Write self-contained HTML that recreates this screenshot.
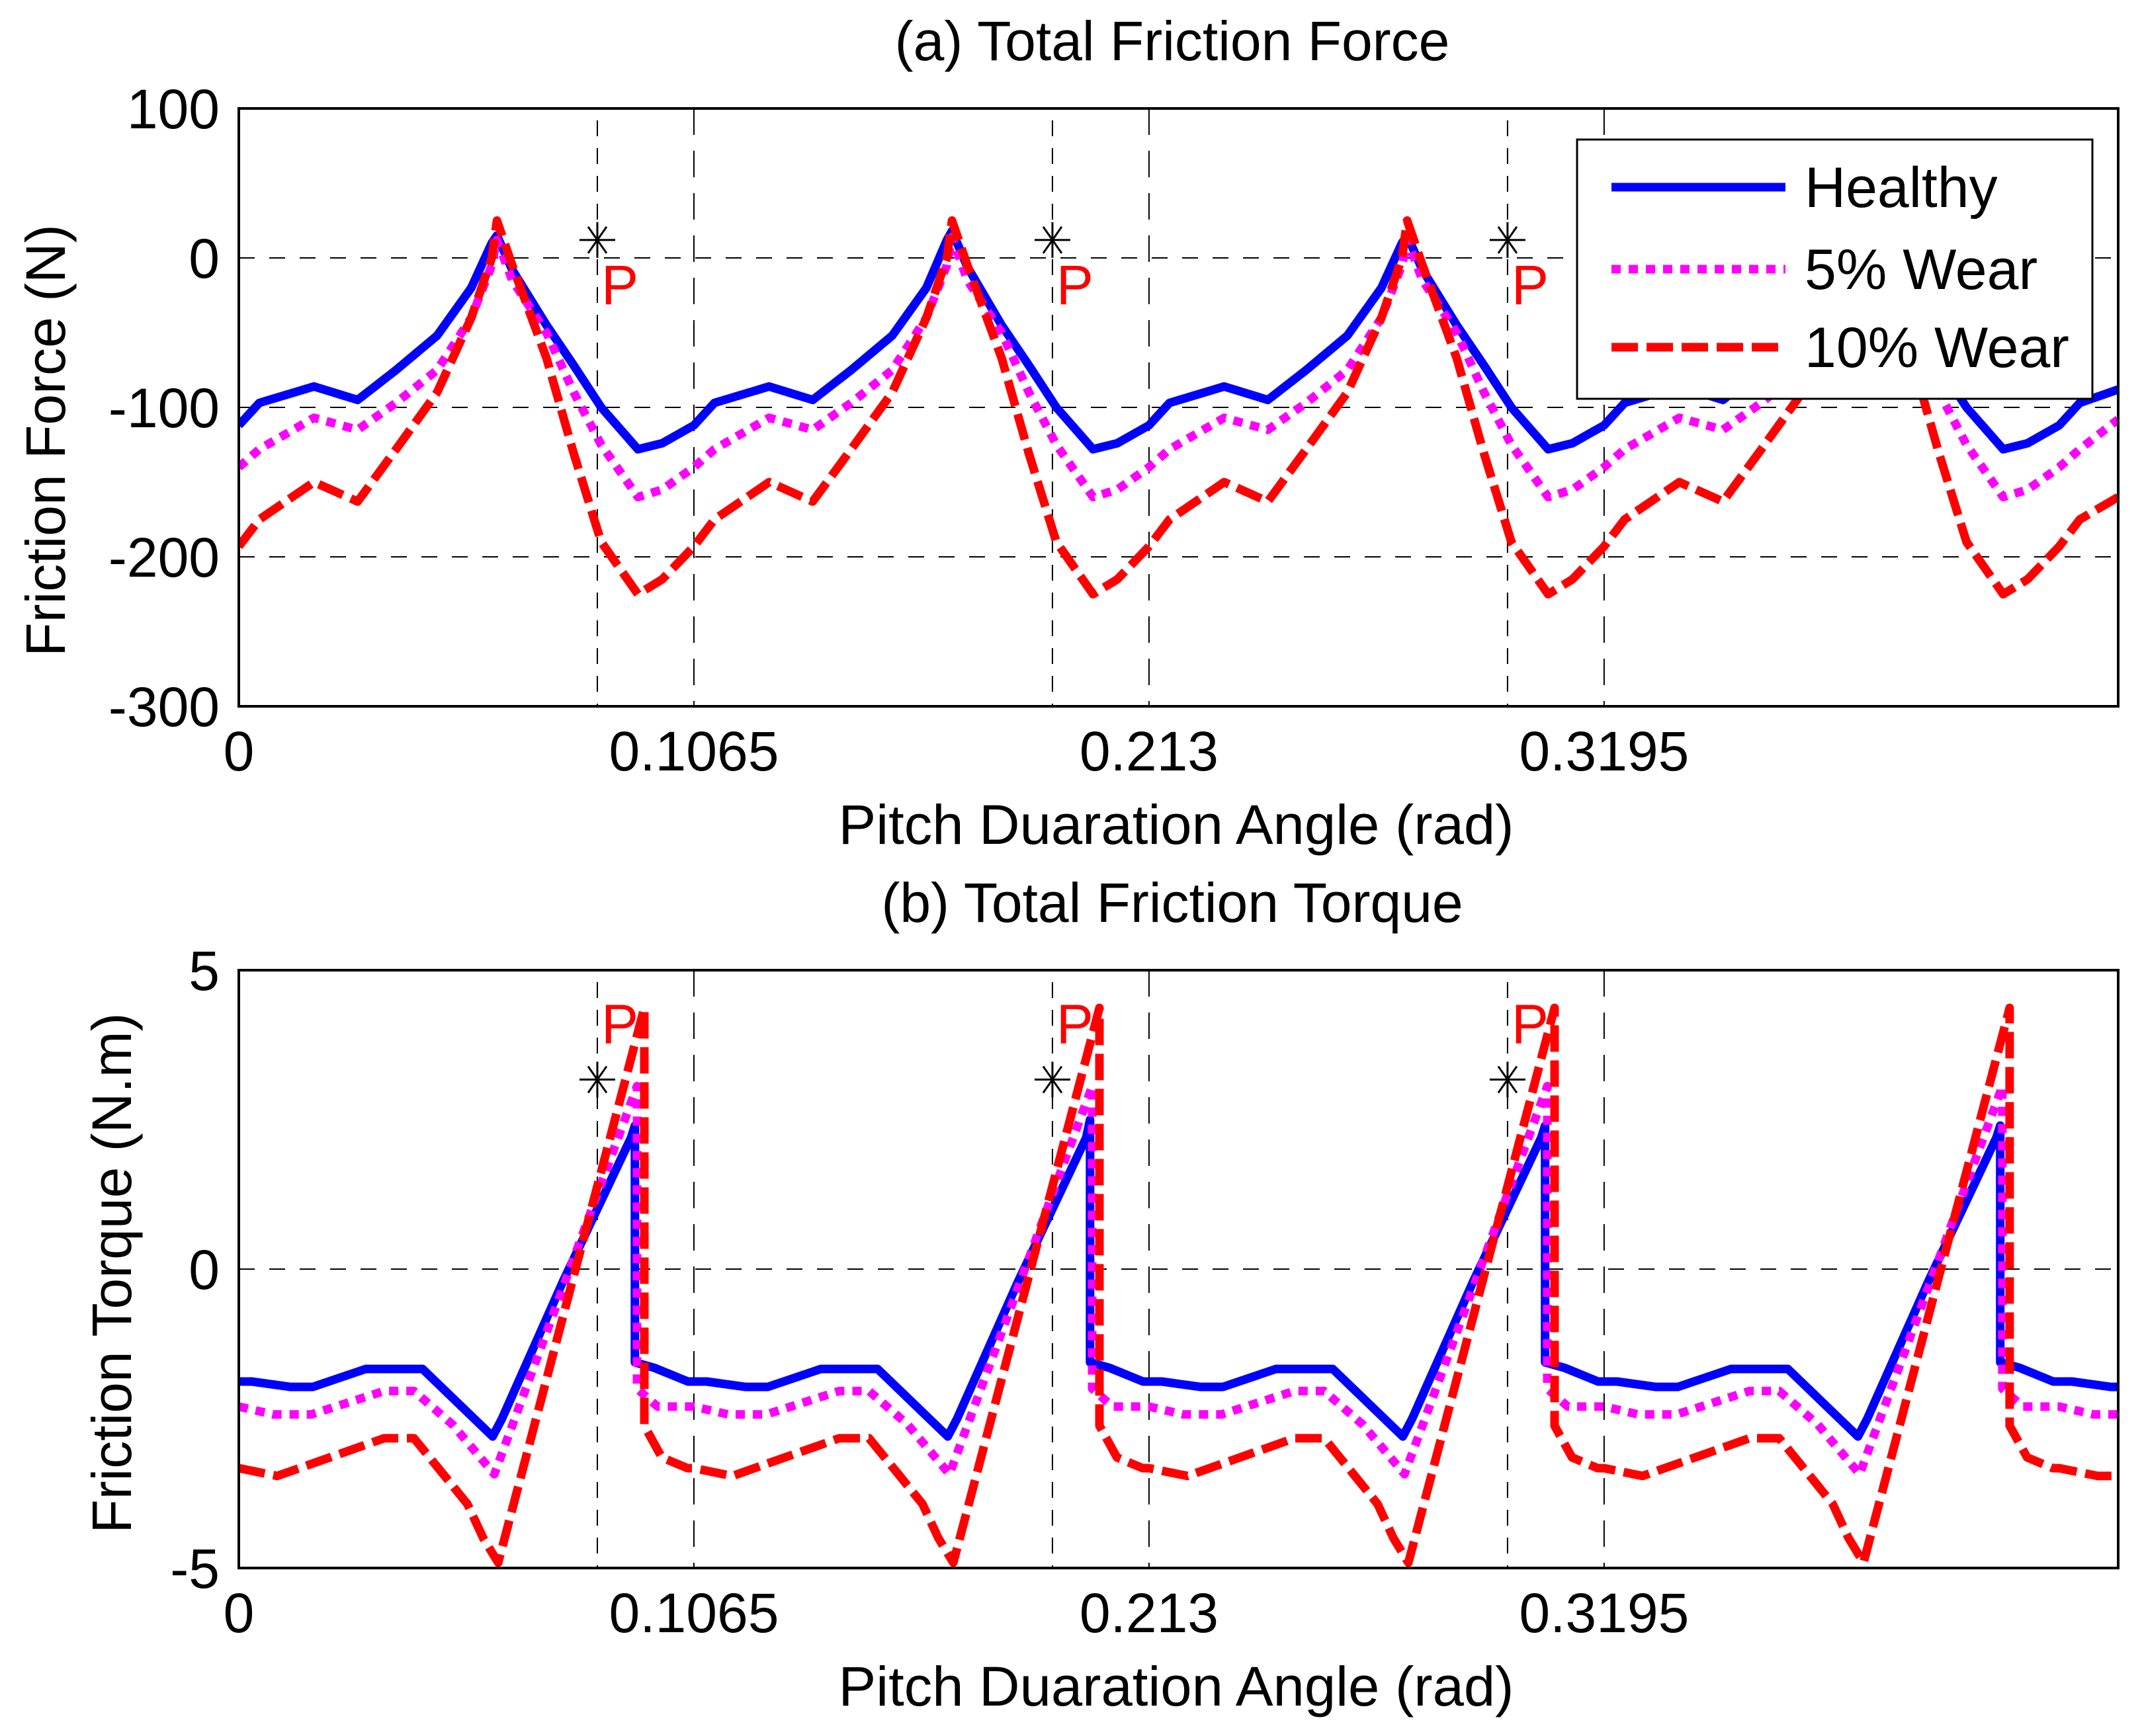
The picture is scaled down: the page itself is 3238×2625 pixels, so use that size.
<!DOCTYPE html>
<html><head><meta charset="utf-8"><style>
html,body{margin:0;padding:0;background:#fff}
svg{display:block}
text{font-family:"Liberation Sans",Arial,sans-serif;fill:#000}
</style></head><body>
<svg id="chart" width="3238" height="2625" viewBox="0 0 3238 2625" xmlns="http://www.w3.org/2000/svg">
<rect width="3238" height="2625" fill="#fff"/>
<g id="gA"></g>
<g id="gB"></g>
</svg>
<script>
const xTicks=[0,0.1065,0.213,0.3195];
const xTickLabels=["0","0.1065","0.213","0.3195"];
const pLines=[0.0839,0.1904,0.2969];
const aYTicks=[100,0,-100,-200,-300];
const aYTickLabels=["100","0","-100","-200","-300"];
const bYTicks=[5,0,-5];
const bYTickLabels=["5","0","-5"];
// Panel (a) friction force
const aX=[0,.0048,.0176,.0278,.0368,.0464,.0544,.0592,.0604,.064,.072,.0784,.0848,.0934,.0991,
.1065,.1113,.1241,.1343,.1433,.1529,.1609,.1657,.1669,.1705,.1785,.1849,.1913,.1999,.2056,
.213,.2178,.2306,.2408,.2498,.2594,.2674,.2722,.2734,.277,.285,.2914,.2978,.3064,.3121,
.3195,.3243,.3371,.3473,.3563,.3659,.3739,.3787,.3799,.3835,.3915,.3979,.4043,.4129,.4186,
.426,.4308,.4398];
const aHealthy=[-112,-97,-86,-95,-75,-52,-20,10,15,-8,-45,-72,-100,-128,-124,
-112,-97,-86,-95,-75,-52,-20,12,18,-6,-45,-72,-100,-128,-124,
-112,-97,-86,-95,-75,-52,-20,10,15,-8,-45,-72,-100,-128,-124,
-112,-97,-86,-95,-75,-52,-20,10,15,-8,-45,-72,-100,-128,-124,
-112,-97,-88];
const aWear5=[-140,-128,-107,-115,-97,-75,-40,-5,12,-15,-50,-90,-125,-160,-155,
-140,-128,-107,-115,-97,-75,-40,-5,14,-15,-50,-90,-125,-160,-155,
-140,-128,-107,-115,-97,-75,-40,-5,12,-15,-50,-90,-125,-160,-155,
-140,-128,-107,-115,-97,-75,-40,-5,12,-15,-50,-90,-125,-160,-155,
-140,-128,-108];
const aWear10=[-193,-175,-150,-163,-128,-90,-40,0,25,-5,-67,-131,-190,-225,-215,
-193,-175,-150,-163,-128,-90,-40,0,25,-5,-67,-131,-190,-225,-215,
-193,-175,-150,-163,-128,-90,-40,0,25,-5,-67,-131,-190,-225,-215,
-193,-175,-150,-163,-128,-90,-40,0,25,-5,-67,-131,-190,-225,-215,
-193,-175,-160];
const aStarY=12;
// Panel (b) friction torque
const bHX=[0,.003,.012,.0173,.0297,.043,.0594,.0616,.0759,.0918,.0927,.0927,.0972,.1051,
.1065,.1095,.1185,.1238,.1362,.1495,.1659,.1681,.1824,.1983,.1992,.1992,.2037,.2116,
.213,.216,.225,.2303,.2427,.256,.2724,.2746,.2889,.3048,.3057,.3057,.3102,.3181,
.3195,.3225,.3315,.3368,.3492,.3625,.3789,.3811,.3954,.4113,.4122,.4122,.4167,.4246,
.426,.429,.438,.4398];
const bHY=[-1.88,-1.88,-1.97,-1.97,-1.67,-1.67,-2.8,-2.5,-0.2,2.2,2.4,-1.56,-1.65,-1.88,
-1.88,-1.88,-1.97,-1.97,-1.67,-1.67,-2.8,-2.5,-0.2,2.2,2.5,-1.56,-1.65,-1.88,
-1.88,-1.88,-1.97,-1.97,-1.67,-1.67,-2.8,-2.5,-0.2,2.2,2.4,-1.56,-1.65,-1.88,
-1.88,-1.88,-1.97,-1.97,-1.67,-1.67,-2.8,-2.5,-0.2,2.2,2.4,-1.56,-1.65,-1.88,
-1.88,-1.88,-1.97,-1.97];
const bMX=[0,.008,.017,.034,.041,.050,.0598,.0932,.0932,.098,.1051,
.1065,.1145,.1235,.1405,.1475,.1565,.1663,.1997,.1997,.2045,.2116,
.213,.221,.23,.247,.254,.263,.2728,.3062,.3062,.311,.3181,
.3195,.3275,.3365,.3535,.3605,.3695,.3793,.4127,.4127,.4175,.4246,
.426,.434,.4398];
const bMY=[-2.3,-2.43,-2.43,-2.04,-2.04,-2.6,-3.43,3.06,-2.0,-2.3,-2.3,
-2.3,-2.43,-2.43,-2.04,-2.04,-2.6,-3.43,3.06,-2.0,-2.3,-2.3,
-2.3,-2.43,-2.43,-2.04,-2.04,-2.6,-3.43,3.06,-2.0,-2.3,-2.3,
-2.3,-2.43,-2.43,-2.04,-2.04,-2.6,-3.43,3.06,-2.0,-2.3,-2.3,
-2.3,-2.43,-2.43];
const bRX=[0,.009,.034,.041,.0475,.0535,.0572,.0607,.0949,.0949,.099,.105,
.1065,.1155,.1405,.1475,.154,.16,.1637,.1672,.2014,.2014,.2055,.2115,
.213,.222,.247,.254,.2605,.2665,.2702,.2737,.3079,.3079,.312,.318,
.3195,.3285,.3535,.3605,.367,.373,.3767,.3802,.4144,.4144,.4185,.4245,
.426,.435,.4398];
const bRY=[-3.33,-3.46,-2.83,-2.83,-3.4,-3.93,-4.5,-4.91,4.37,-2.62,-3.15,-3.33,
-3.33,-3.46,-2.83,-2.83,-3.4,-3.93,-4.5,-4.91,4.37,-2.62,-3.15,-3.33,
-3.33,-3.46,-2.83,-2.83,-3.4,-3.93,-4.5,-4.91,4.37,-2.62,-3.15,-3.33,
-3.33,-3.46,-2.83,-2.83,-3.4,-3.93,-4.5,-4.91,4.37,-2.62,-3.15,-3.33,
-3.33,-3.46,-3.46];
const bStarY=3.17;
const legendLabels=["Healthy","5% Wear","10% Wear"];

const NS="http://www.w3.org/2000/svg";
const L=361,R=3202,XMAX=0.4398;
function sx(v){return L+(v/XMAX)*(R-L);}
function mk(tag,attrs,parent){const e=document.createElementNS(NS,tag);for(const k in attrs)e.setAttribute(k,attrs[k]);parent.appendChild(e);return e;}
const styles=[{c:"#0000ff",d:""},{c:"#ff00ff",d:"14 12"},{c:"#ff0000",d:"40 13"}];

function panel(g,id,top,bot,ymin,ymax,yTicks,yLabels,series,starY,pOffset,ylab,ylabX,ylabCY,title,titleY,xlabY,hgrid){
  const sy=v=>bot-(v-ymin)/(ymax-ymin)*(bot-top);
  const clip=mk("clipPath",{id:"clip"+id},g);
  mk("rect",{x:L,y:top,width:R-L,height:bot-top},clip);
  hgrid.forEach(v=>{const e=mk("line",{x1:L,x2:R,y1:sy(v),y2:sy(v),stroke:"#000","stroke-width":2,"stroke-dasharray":"24 22"},g);
    
    });
  xTicks.slice(1).forEach(v=>{const e=mk("line",{x1:sx(v),x2:sx(v),y1:top,y2:bot,stroke:"#000","stroke-width":2,"stroke-dasharray":"40 24"},g);
    
    });
  pLines.forEach(v=>{const e=mk("line",{x1:sx(v),x2:sx(v),y1:top+18,y2:bot,stroke:"#000","stroke-width":2,"stroke-dasharray":"24 18"},g);
    
    });
  const sg=mk("g",{"clip-path":"url(#clip"+id+")"},g);
  series.forEach((s,i)=>{
    const pts=s.x.map((xv,j)=>sx(xv).toFixed(1)+","+sy(s.y[j]).toFixed(1)).join(" ");
    const e=mk("polyline",{points:pts,fill:"none",stroke:styles[i].c,"stroke-width":13,"stroke-linejoin":"round","stroke-dasharray":styles[i].d},sg);
    
    
  });
  pLines.forEach(v=>{
    const cx=sx(v),cy=sy(starY);
    const st=mk("g",{stroke:"#000","stroke-width":3},g);
    
    
    mk("line",{x1:cx-27,x2:cx+27,y1:cy,y2:cy},st);
    mk("line",{x1:cx-14,x2:cx+14,y1:cy-20,y2:cy+20},st);
    mk("line",{x1:cx-14,x2:cx+14,y1:cy+20,y2:cy-20},st);
    mk("line",{x1:cx,x2:cx,y1:cy-27,y2:cy+27},st);
    const t=mk("text",{x:cx+6,y:cy+pOffset,"font-size":84,fill:"#ff0000"},g);
    t.style.fill="#ff0000";t.textContent="P";
    
    
  });
  const ax=mk("rect",{x:L,y:top,width:R-L,height:bot-top,fill:"none",stroke:"#000","stroke-width":4},g);
  
  
  yTicks.forEach((v,i)=>{
    const t=mk("text",{x:332,y:sy(v)+30,"font-size":84,"text-anchor":"end"},g);t.textContent=yLabels[i];
    
    
  });
  xTicks.forEach((v,i)=>{
    const t=mk("text",{x:sx(v),y:bot+97,"font-size":84,"text-anchor":"middle"},g);t.textContent=xTickLabels[i];
    
    
  });
  const xl=mk("text",{x:1778,y:xlabY,"font-size":84,"text-anchor":"middle",textLength:1021,lengthAdjust:"spacingAndGlyphs"},g);
  xl.textContent="Pitch Duaration Angle (rad)";
  
  
  const tt=mk("text",{x:1772,y:titleY,"font-size":84,"text-anchor":"middle"},g);
  tt.textContent=title;
  
  
  const yl=mk("text",{x:0,y:0,"font-size":84,"text-anchor":"middle",transform:"translate("+ylabX+","+ylabCY+") rotate(-90)"},g);
  yl.textContent=ylab;
  
  
}

panel(document.getElementById("gA"),"a",164,1068,-300,100,aYTicks,aYTickLabels,
 [{n:"healthy",x:aX,y:aHealthy},{n:"wear-5",x:aX,y:aWear5},{n:"wear-10",x:aX,y:aWear10}],
 aStarY,97,"Friction Force (N)",98,666,"(a) Total Friction Force",91,1276,[0,-100,-200]);
panel(document.getElementById("gB"),"b",1467,2371,-5,5,bYTicks,bYTickLabels,
 [{n:"healthy",x:bHX,y:bHY},{n:"wear-5",x:bMX,y:bMY},{n:"wear-10",x:bRX,y:bRY}],
 bStarY,-55,"Friction Torque (N.m)",198,1925,"(b) Total Friction Torque",1394,2579,[0]);

const gA=document.getElementById("gA");
const lg=mk("g",{},gA);


mk("rect",{x:2384,y:211,width:779,height:392,fill:"#fff",stroke:"#000","stroke-width":3},lg);
const legY=[283,407,525];
legendLabels.forEach((lab,i)=>{
  const ln=mk("line",{x1:2436,x2:2699,y1:legY[i],y2:legY[i],stroke:styles[i].c,"stroke-width":13,"stroke-dasharray":styles[i].d},lg);
  
  
  const t=mk("text",{x:2728,y:legY[i]+30,"font-size":86},lg);
  t.textContent=lab;
  
  
});
</script>
</body></html>
